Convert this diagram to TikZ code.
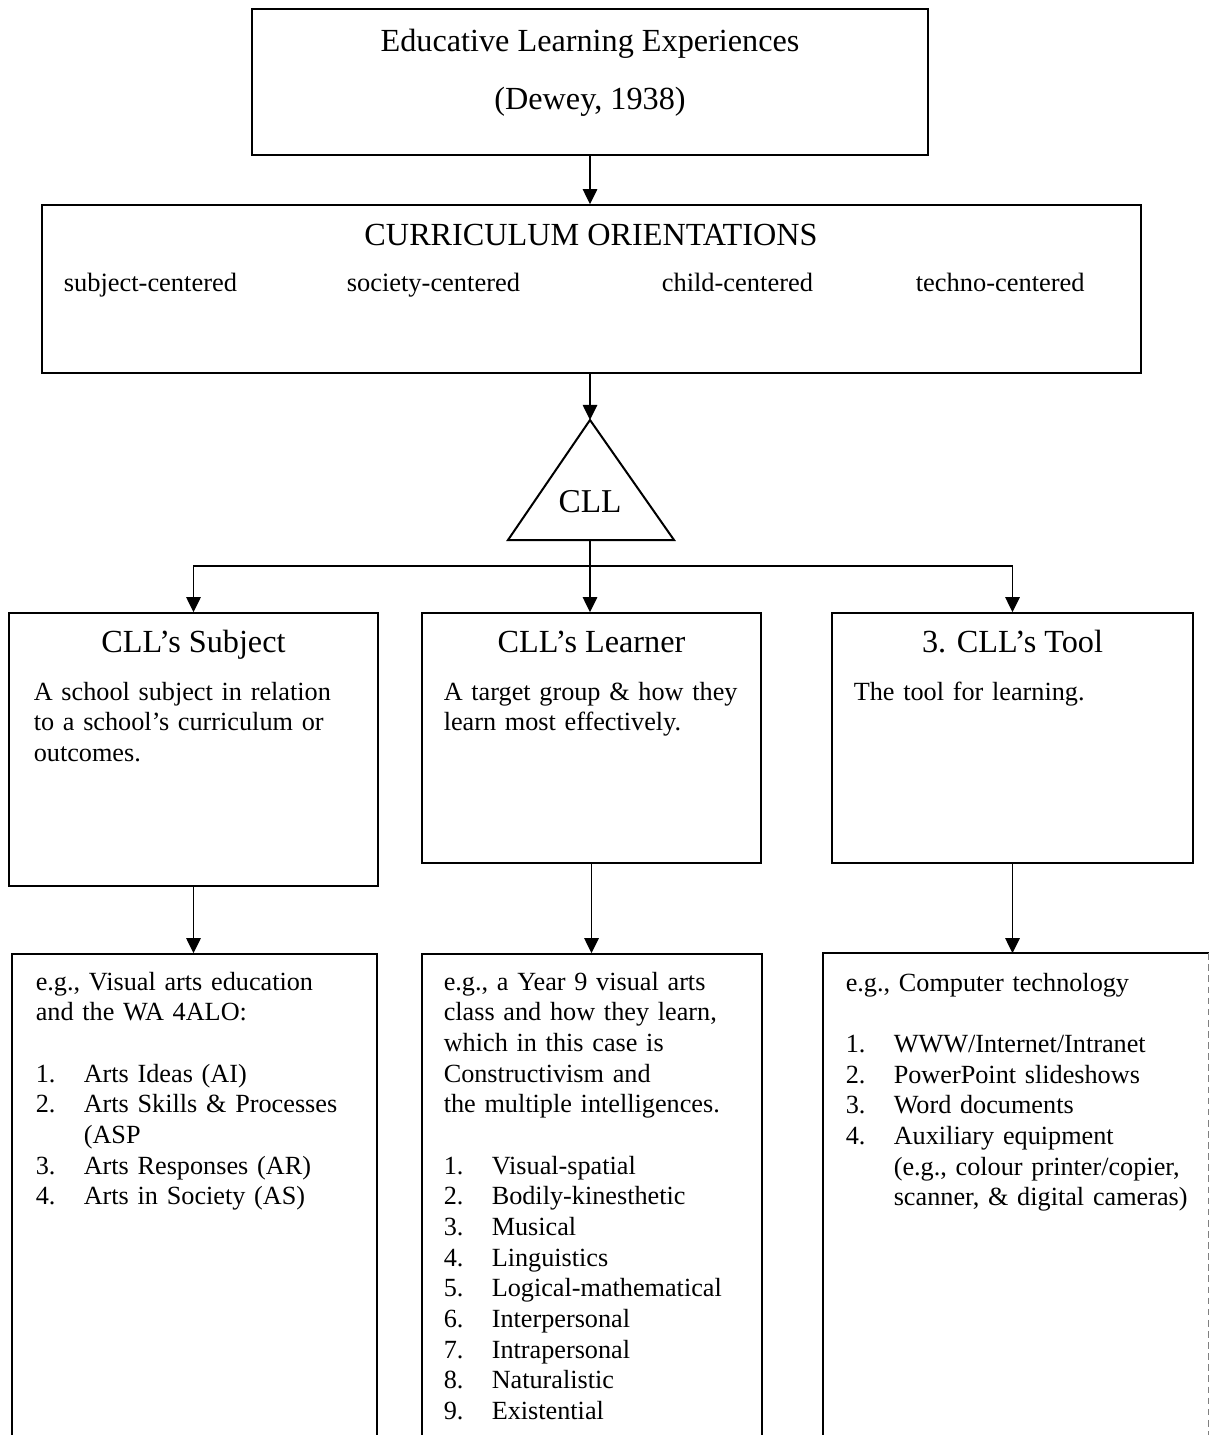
\documentclass[tikz,border=0pt]{standalone}
\usepackage{fontspec}
\setmainfont{Liberation Serif}
\usetikzlibrary{arrows.meta,fit}
\newcommand{\itm}[2]{\makebox[21.6pt][l]{#1}#2}
\newcommand{\itmgap}{\hspace*{21.6pt}}

\begin{document}
\begin{tikzpicture}[x=.45pt,y=-.45pt,line width=.7pt,
		box/.style={draw,rectangle,inner sep=0pt},
		head/.style={inner sep=0pt,anchor=base,font=\fontsize{14.5}{26}\selectfont},
		lbl/.style={inner sep=0pt,anchor=base west,font=\fontsize{11.9}{13.8}\selectfont},
		txt/.style={inner sep=0pt,anchor=base west,align=left,text width=170pt,font=\fontsize{11.8}{13.8}\selectfont},
		arr/.style={-{Triangle[length=6.8pt,width=6.5pt]}}]
	\clip (0,0) rectangle (1210,1435);
	\fill[white] (0,0) rectangle (1210,1435);

	% boxes
	\node[box,fit={(252,9) (928,155)}] (dewey) {};
	\node[box,fit={(42,205) (1141,373)}] (orient) {};
	\node[box,fit={(9,613) (378,886)}] (subject) {};
	\node[box,fit={(422,613) (761,863)}] (learner) {};
	\node[box,fit={(832,613) (1193,863)}] (tool) {};
	\node[box,fit={(12,954) (377,1460)}] (egsubject) {};
	\node[box,fit={(422,954) (762,1460)}] (eglearner) {};
	\node[inner sep=0pt,fit={(824,954) (1208,1460)}] (egtool) {};
	\draw (egtool.south west) -- (egtool.north west) -- (egtool.north east);
	\draw[gray,densely dashed,line width=.4pt] (egtool.north east) -- (egtool.south east);

	% triangle
	\coordinate (apex) at (590,420);
	\coordinate (base) at (590,540);
	\coordinate (split) at (590,566);
	\draw[line width=.9pt] (apex) -- (674,540) -- (508,540) -- cycle;
	\node[head,font=\fontsize{15}{26}\selectfont] (cll) at (590,512) {CLL};

	% texts
	\node[head] (deweyname) at (590,52) {Educative Learning Experiences};
	\node[head] (deweyyear) at (590,110) {(Dewey, 1938)};
	\node[head] (orientname) at (591,246) {CURRICULUM ORIENTATIONS};
	\node[lbl] (subjc) at (63,292) {subject-centered};
	\node[lbl] (socc) at (346,292) {society-centered};
	\node[lbl] (childc) at (661,292) {child-centered};
	\node[lbl] (technoc) at (915,292) {techno-centered};

	\node[head] (subjectname) at (193.5,652) {CLL’s Subject};
	\node[head] (learnername) at (591.5,652) {CLL’s Learner};
	\node[head] (toolname) at (1012.5,652) {3. CLL’s Tool};
	\node[txt] (subjecttxt) at (33,700) {A school subject in relation\\to a school’s curriculum or\\outcomes.};
	\node[txt] (learnertxt) at (443,700) {A target group \& how they\\learn most effectively.};
	\node[txt] (tooltxt) at (853,700) {The tool for learning.};

	\node[txt] (egsubjecttxt) at (35,990) {e.g., Visual arts education\\and the WA 4ALO:\\[13.8pt]
		\itm{1.}{Arts Ideas (AI)}\\
		\itm{2.}{Arts Skills \& Processes}\\
		\itmgap(ASP\\
		\itm{3.}{Arts Responses (AR)}\\
		\itm{4.}{Arts in Society (AS)}};
	\node[txt] (eglearnertxt) at (443,990) {e.g., a Year 9 visual arts\\class and how they learn,\\which in this case is\\Constructivism and\\the multiple intelligences.\\[13.8pt]
		\itm{1.}{Visual-spatial}\\
		\itm{2.}{Bodily-kinesthetic}\\
		\itm{3.}{Musical}\\
		\itm{4.}{Linguistics}\\
		\itm{5.}{Logical-mathematical}\\
		\itm{6.}{Interpersonal}\\
		\itm{7.}{Intrapersonal}\\
		\itm{8.}{Naturalistic}\\
		\itm{9.}{Existential}};
	\node[txt] (egtooltxt) at (845,991) {e.g., Computer technology\\[13.8pt]
		\itm{1.}{WWW/Internet/Intranet}\\
		\itm{2.}{PowerPoint slideshows}\\
		\itm{3.}{Word documents}\\
		\itm{4.}{Auxiliary equipment}\\
		\itmgap(e.g., colour printer/copier,\\
		\itmgap scanner, \& digital cameras)};

	% connectors
	\draw[arr] (dewey.south) -- (dewey.south |- orient.north);
	\draw[arr] (orient.south -| apex) -- (apex);
	\draw[arr] (base) -- (base |- learner.north);
	\draw[arr] (split) -| (subject.north);
	\draw[arr] (split) -| (tool.north);
	\draw[arr] (subject.south) -- (subject.south |- egsubject.north);
	\draw[arr] (learner.south) -- (learner.south |- eglearner.north);
	\draw[arr] (tool.south) -- (tool.south |- egtool.north);
\end{tikzpicture}
\end{document}
